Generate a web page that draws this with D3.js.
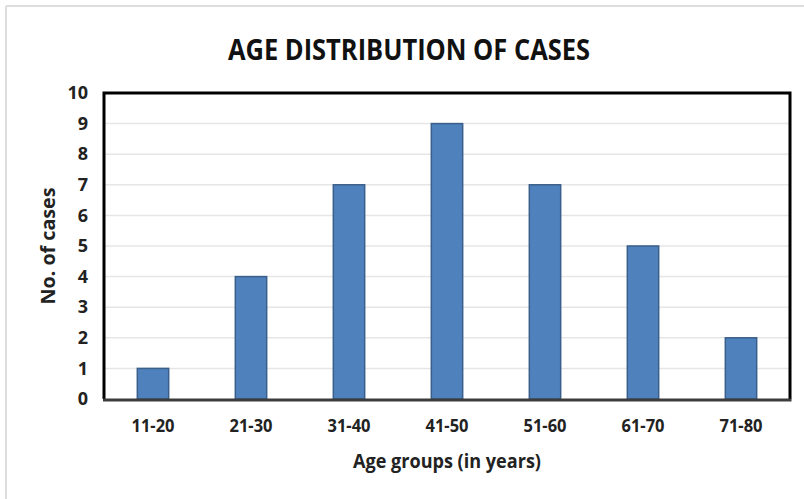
<!DOCTYPE html>
<html><head><meta charset="utf-8">
<script src="https://cdn.jsdelivr.net/npm/d3@7"></script>
<style>body{margin:0;background:#fff;}svg{display:block;} text{font-family:"Open Sans","Liberation Sans",sans-serif;}</style>
</head><body>
<svg id="c" width="804" height="499"></svg>
<script>
const categories = ["11-20","21-30","31-40","41-50","51-60","61-70","71-80"];
const cases = [1,4,7,9,7,5,2];
const yTicks = [0,1,2,3,4,5,6,7,8,9,10];

const svg = d3.select("#c");
const m = {left:104, right:790, top:93, bottom:399};

// outer light border
svg.append("line").attr("x1",6).attr("x2",804).attr("y1",6).attr("y2",6).attr("stroke","#ddd").attr("stroke-width",2);
svg.append("line").attr("x1",6).attr("x2",6).attr("y1",6).attr("y2",499).attr("stroke","#ddd").attr("stroke-width",2);

const x = d3.scaleBand().domain(categories).range([m.left,m.right]).paddingInner(0.68).paddingOuter(0.34);
const y = d3.scaleLinear().domain([0,10]).range([m.bottom,m.top]);

// gridlines
svg.append("g").selectAll("line").data(yTicks.filter(d=>d>0&&d<10)).join("line")
  .attr("x1",m.left).attr("x2",m.right).attr("y1",d=>y(d)).attr("y2",d=>y(d))
  .attr("stroke","#e6e6e6").attr("stroke-width",1.5);

// bars
svg.append("g").selectAll("rect").data(cases).join("rect")
  .attr("x",(d,i)=>x(categories[i])).attr("width",x.bandwidth())
  .attr("y",d=>y(d)).attr("height",d=>y(0)-y(d))
  .attr("fill","#4f81bd").attr("stroke","#3a5f8a").attr("stroke-width",1.5);

// frame
svg.append("path").attr("d",`M${m.left},${m.bottom}V${m.top}H${m.right}V${m.bottom}`)
  .attr("fill","none").attr("stroke","#000").attr("stroke-width",3);
svg.append("line").attr("x1",m.left-1).attr("x2",m.right+1.5).attr("y1",m.bottom+1).attr("y2",m.bottom+1)
  .attr("stroke","#3c3c3c").attr("stroke-width",3);

// y axis labels
const ya = d3.axisLeft(y).tickValues(yTicks).tickSize(0).tickPadding(16);
const gy = svg.append("g").attr("transform",`translate(${m.left},0)`).call(ya);
gy.select(".domain").remove();
gy.attr("font-family",null).attr("font-size",null);
gy.selectAll("text").attr("font-size",18).attr("font-weight","bold").attr("fill","#222");

// x axis labels
const xa = d3.axisBottom(x).tickSize(0).tickPadding(20);
const gx = svg.append("g").attr("transform",`translate(0,${m.bottom})`).call(xa);
gx.select(".domain").remove();
gx.attr("font-family",null).attr("font-size",null);
gx.selectAll("text").attr("font-size",18).attr("font-weight","bold").attr("fill","#222")
  .attr("textLength",43).attr("lengthAdjust","spacingAndGlyphs");

// title
svg.append("text").attr("x",409).attr("y",60).attr("text-anchor","middle")
  .attr("font-size",29).attr("font-weight","bold").attr("fill","#111")
  .attr("textLength",362).attr("lengthAdjust","spacingAndGlyphs")
  .text("AGE DISTRIBUTION OF CASES");

svg.append("text").attr("x",447).attr("y",468).attr("text-anchor","middle")
  .attr("font-size",19).attr("font-weight","bold").attr("fill","#222")
  .attr("textLength",188).attr("lengthAdjust","spacingAndGlyphs")
  .text("Age groups  (in years)");

svg.append("text").attr("transform","translate(55,246) rotate(-90)").attr("text-anchor","middle")
  .attr("font-size",19).attr("font-weight","bold").attr("fill","#222")
  .attr("textLength",117).attr("lengthAdjust","spacingAndGlyphs")
  .text("No. of cases");
</script>
</body></html>
